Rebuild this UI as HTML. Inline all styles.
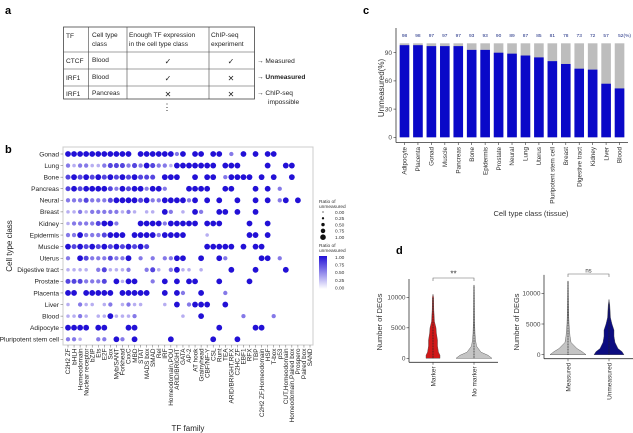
<!DOCTYPE html>
<html><head><meta charset="utf-8"><style>
body{margin:0;background:#fff;}
svg{display:block;font-family:"Liberation Sans",sans-serif;}
</style></head><body>
<svg id="fig" width="633" height="433" viewBox="0 0 633 433" xmlns="http://www.w3.org/2000/svg">
<rect width="633" height="433" fill="#fff"/>
<text x="5" y="14" font-size="11" font-weight="bold">a</text>
<text x="5" y="153" font-size="11" font-weight="bold">b</text>
<text x="363" y="14" font-size="11" font-weight="bold">c</text>
<text x="396" y="254" font-size="11" font-weight="bold">d</text>

<g font-size="6.6" fill="#222">
<rect x="63.5" y="27" width="191" height="72" fill="none" stroke="#444" stroke-width="0.8"/>
<line x1="88.5" y1="27" x2="88.5" y2="99" stroke="#444" stroke-width="0.6"/>
<line x1="127" y1="27" x2="127" y2="99" stroke="#444" stroke-width="0.6"/>
<line x1="209" y1="27" x2="209" y2="99" stroke="#444" stroke-width="0.6"/>
<line x1="63.5" y1="52" x2="254.5" y2="52" stroke="#444" stroke-width="0.6"/>
<line x1="63.5" y1="69" x2="254.5" y2="69" stroke="#444" stroke-width="0.6"/>
<line x1="63.5" y1="86" x2="254.5" y2="86" stroke="#444" stroke-width="0.6"/>
<text x="66" y="38">TF</text>
<text x="92" y="37">Cell type</text><text x="92" y="46">class</text>
<text x="129" y="37">Enough TF expression</text><text x="129" y="46">in the cell type class</text>
<text x="211" y="37">ChIP-seq</text><text x="211" y="46">experiment</text>
<text x="66" y="63">CTCF</text><text x="92" y="62">Blood</text>
<text x="66" y="80">IRF1</text><text x="92" y="79">Blood</text>
<text x="66" y="96">IRF1</text><text x="92" y="95">Pancreas</text>
<text x="168" y="64" font-size="8" text-anchor="middle">✓</text>
<text x="231" y="64" font-size="8" text-anchor="middle">✓</text>
<text x="168" y="81" font-size="8" text-anchor="middle">✓</text>
<text x="231" y="81" font-size="8" text-anchor="middle">✕</text>
<text x="168" y="97" font-size="8" text-anchor="middle">✕</text>
<text x="231" y="97" font-size="8" text-anchor="middle">✕</text>
<text x="257" y="63">→ Measured</text>
<text x="257" y="79" font-weight="bold">→ Unmeasured</text>
<text x="257" y="95">→ ChIP-seq</text><text x="268" y="104">impossible</text>
<text x="167" y="110" font-size="9" text-anchor="middle">⋮</text>
</g>
<g id="pb"></g>
<g id="pc"></g>
<g id="pd"></g>
</svg>
<script>
const NS="http://www.w3.org/2000/svg";
function mk(p,tag,a,txt){const e=document.createElementNS(NS,tag);for(const k in a)e.setAttribute(k,a[k]);if(txt!==undefined)e.textContent=txt;p.appendChild(e);return e;}

const bRows=["Gonad","Lung","Bone","Pancreas","Neural","Breast","Kidney","Epidermis","Muscle","Uterus","Digestive tract","Prostate","Placenta","Liver","Blood","Adipocyte","Pluripotent stem cell"];
const bCols=["C2H2 ZF","bHLH","Homeodomain","Nuclear receptor","bZIP","Ets","E2F","Sox","Myb/SANT","Forkhead","CxxC","MBD","STAT","MADS box","SMAD","Rel","IRF","Homeodomain,POU","ARID/BRIGHT","GATA","AP-2","AT hook","Grainyhead","CBF/NF-Y","CSL","Runt","TEA","ARID/BRIGHT,RFX","C2HC ZF","EBF1","RFX","TBP","C2H2 ZF,Homeodomain","HSF","T-box","p53","CUT,Homeodomain","Homeodomain,Paired box","Prospero","Paired box","SAND"];
const bVals=[
"ddddddddddd ddddddbd dd dd b d d dd       ",
"babbaabcccbcbdcbbaddddddd ddd    d  dd  ",
"cdcdcdcdcdcdccc ddd  d dd bdddd d d  d   ",
"cdcddddcbdcddbddb   dddd  dd   d d b     ",
"bbbcbbbcddddcdbbddddbd d d  d  d d bd d  ",
"aababbbbbaba aa db a db  dd d  d         ",
"abbbbcddb   ddddbddddd ddd    d  d       ",
"bbdbbbcddd ddddbdddd   a      dd d        ",
"dcdcdcdcdcdcdc         ddddd d dd        ",
"b dcbbbcbbd b b bbdd  d  db     dd b     ",
"aaaa bcaaab  bca bdaa a    d   d    d    ",
"cccbbbc dadd  b d d dd   d    d          ",
"dd ddddd ddddd  d db  d   b              ",
"a baa ab abaa   a d bddd  d              ",
"aaba aadaaab       a  d      b    b      ",
"dddd dd   dd             d     dd        ",
"bba  bb db d     d      d   d            "
];
const bX0=68,bDX=6.05,bY0=154,bDY=11.58;
function bx(i){return bX0+i*bDX;} function by(j){return bY0+j*bDY;}
const lv={a:0.25,b:0.5,c:0.75,d:1};
function dcol(v){const a=[232,226,250],b=[34,16,214];const t=v;return `rgb(${Math.round(a[0]+(b[0]-a[0])*t)},${Math.round(a[1]+(b[1]-a[1])*t)},${Math.round(a[2]+(b[2]-a[2])*t)})`;}
function drad(v){return 1.4+1.5*v;}
(function(){
const g=document.getElementById('pb');
mk(g,'rect',{x:63,y:147,width:250,height:198,fill:'none',stroke:'#ccc','stroke-width':1});
bRows.forEach((r,j)=>{
 const t=mk(g,'text',{x:59,y:by(j)+2.3,'font-size':6.6,'text-anchor':'end',fill:'#222'},r);
 
 
 mk(g,'line',{x1:60.5,x2:63,y1:by(j),y2:by(j),stroke:'#666','stroke-width':0.5});
 const s=bVals[j];
 for(let i=0;i<bCols.length;i++){const ch=s[i];if(!ch||ch===' ')continue;const v=lv[ch];
  const c=mk(g,'circle',{cx:bx(i),cy:by(j),r:drad(v),fill:dcol(v)});
  
  }
});
bCols.forEach((c,i)=>{
 mk(g,'line',{x1:bx(i),x2:bx(i),y1:345,y2:347.5,stroke:'#666','stroke-width':0.5});
 const t=mk(g,'text',{x:0,y:0,'font-size':6.4,'text-anchor':'end',fill:'#222',transform:`translate(${bx(i)+2.2},348.5) rotate(-90)`},c);
 
 
});
const xt=mk(g,'text',{x:188,y:431,'font-size':8,'text-anchor':'middle',fill:'#222'},'TF family');

const yt=mk(g,'text',{x:0,y:0,'font-size':8,'text-anchor':'middle',fill:'#222',transform:'translate(12,246) rotate(-90)'},'Cell type class');

const lg=mk(g,'g',{});
mk(lg,'text',{x:319,y:203,'font-size':4.8,fill:'#333'},'Ratio of');
mk(lg,'text',{x:319,y:208,'font-size':4.8,fill:'#333'},'unmeasured');
const sv=[0,0.25,0.5,0.75,1],sl=["0.00","0.25","0.50","0.75","1.00"];
sv.forEach((v,k)=>{const y=212+k*6.3;mk(lg,'circle',{cx:323,cy:y,r:0.6+2.2*v,fill:'#111'});mk(lg,'text',{x:335,y:y+1.8,'font-size':4.8,fill:'#333'},sl[k]);});
mk(lg,'text',{x:319,y:247,'font-size':4.8,fill:'#333'},'Ratio of');
mk(lg,'text',{x:319,y:252,'font-size':4.8,fill:'#333'},'unmeasured');
const gr=mk(lg,'defs',{});const lgd=mk(gr,'linearGradient',{id:'cg',x1:0,y1:0,x2:0,y2:1});
mk(lgd,'stop',{offset:0,'stop-color':dcol(1)});mk(lgd,'stop',{offset:1,'stop-color':'#fff'});
mk(lg,'rect',{x:319,y:256,width:8,height:33,fill:'url(#cg)'});
sl.slice().reverse().forEach((s,k)=>mk(lg,'text',{x:335,y:259+k*7.6,'font-size':4.8,fill:'#333'},s));
})();

const cCats=["Adipocyte","Placenta","Gonad","Muscle","Pancreas","Bone","Epidermis","Prostate","Neural","Lung","Uterus","Pluripotent stem cell","Breast","Digestive tract","Kidney","Liver","Blood"];
const cVals=[98,98,97,97,97,93,93,90,89,87,85,81,78,73,72,57,52];
const cLabels=["98","98","97","97","97","93","93","90","89","87","85","81","78","73","72","57","52(%)"];
const cTicks=[0,30,60,90];
(function(){
const g=document.getElementById('pc');
const X=i=>404.5+i*13.44, Y=v=>137.3-v*0.94, bw=9.6;
mk(g,'line',{x1:396,x2:396,y1:28,y2:142.5,stroke:'#333','stroke-width':0.8});
mk(g,'line',{x1:396,x2:628,y1:142.5,y2:142.5,stroke:'#333','stroke-width':0.8});
cTicks.forEach(t=>{mk(g,'line',{x1:393.5,x2:396,y1:Y(t),y2:Y(t),stroke:'#333','stroke-width':0.6});
 const tl=mk(g,'text',{x:392,y:Y(t)+2.3,'font-size':6.5,'text-anchor':'end',fill:'#444'},t);
 });
cCats.forEach((c,i)=>{
 const r1=mk(g,'rect',{x:X(i)-bw/2,y:Y(100),width:bw,height:Y(0)-Y(100),fill:'#bdbdbd'});
 
 const r2=mk(g,'rect',{x:X(i)-bw/2,y:Y(cVals[i]),width:bw,height:Y(0)-Y(cVals[i]),fill:'#0a08c8'});
 
 const vl=mk(g,'text',{x:X(i)+(i==16?5:0),y:37,'font-size':4.8,'text-anchor':'middle',fill:'#1a2a80'},cLabels[i]);
 
 mk(g,'line',{x1:X(i),x2:X(i),y1:142.5,y2:145,stroke:'#333','stroke-width':0.6});
 const tl=mk(g,'text',{x:0,y:0,'font-size':6.3,'text-anchor':'end',fill:'#333',transform:`translate(${X(i)+2.2},147) rotate(-90)`},c);
 
});
const yt=mk(g,'text',{x:0,y:0,'font-size':8,'text-anchor':'middle',fill:'#333',transform:'translate(384,88) rotate(-90)'},'Unmeasured(%)');

const xt=mk(g,'text',{x:531,y:216,'font-size':7.5,'text-anchor':'middle',fill:'#333'},'Cell type class (tissue)');

})();

const dTicks=[0,5000,10000];
const dLeftCats=["Marker","No marker"];
const dRightCats=["Measured","Unmeasured"];
const dLevels=[0,500,1000,2000,3000,4000,5000,6000,8000,10000,12000];
const dMarker=[7,7,5.5,4.5,4.5,3.5,3,1.5,0.8,0.6,0];
const dNoMarker=[18,14,7,2.5,1.5,1,0.8,0.6,0.5,0.4,0.2];
const dMeasured=[18,14,9,3,2,1.5,1,0.8,0.6,0.4,0.2];
const dUnmeasured=[15,13,9,6,5,5,3,1.5,0.8,0,0];
const dMax=[10500,12500,12500,9000];
(function(){
const g=document.getElementById('pd');
function panel(ax,x1,y0,scale,cats,dens,cols,maxs,sig,bry,ttlx){
 const Y=v=>y0-v*scale;
 mk(g,'line',{x1:ax,x2:ax,y1:Y(13000),y2:y0+4,stroke:'#333','stroke-width':0.8});
 mk(g,'line',{x1:ax,x2:x1,y1:y0+4,y2:y0+4,stroke:'#333','stroke-width':0.8});
 dTicks.forEach(t=>{mk(g,'line',{x1:ax-2.5,x2:ax,y1:Y(t),y2:Y(t),stroke:'#333','stroke-width':0.6});
  const tl=mk(g,'text',{x:ax-3.5,y:Y(t)+2.3,'font-size':6.5,'text-anchor':'end',fill:'#444'},t);
  });
 const cx=[ax+24,ax+65];
 cats.forEach((c,k)=>{
  const d=dens[k];let p='';const pts=[];
  for(let i=0;i<dLevels.length;i++){if(dLevels[i]>maxs[k]&&i>0){pts.push([0,maxs[k]]);break;}pts.push([d[i],dLevels[i]]);}
  p='M'+cx[k]+','+Y(0);pts.forEach(q=>p+=' L'+(cx[k]+q[0])+','+Y(q[1]));
  for(let i=pts.length-1;i>=0;i--)p+=' L'+(cx[k]-pts[i][0])+','+Y(pts[i][1]);p+='Z';
  const v=mk(g,'path',{d:p,fill:cols[k],stroke:'#444','stroke-width':0.4});
  
  mk(g,'line',{x1:cx[k],x2:cx[k],y1:Y(0),y2:Y(maxs[k]*0.95),stroke:'#222','stroke-width':0.8,'stroke-dasharray':'1,0.6'});
  mk(g,'line',{x1:cx[k],x2:cx[k],y1:y0+4,y2:y0+6.5,stroke:'#333','stroke-width':0.6});
  const tl=mk(g,'text',{x:0,y:0,'font-size':6.5,'text-anchor':'end',fill:'#333',transform:`translate(${cx[k]+2.3},${y0+8}) rotate(-90)`},c);
  
 });
 mk(g,'path',{d:`M${cx[0]},${bry+3} V${bry} H${cx[1]} V${bry+3}`,fill:'none',stroke:'#666','stroke-width':0.6});
 const s=mk(g,'text',{x:(cx[0]+cx[1])/2,y:bry-1.5,'font-size':sig=='**'?8:6,'text-anchor':'middle',fill:'#333'},sig);
 
 const yt=mk(g,'text',{x:0,y:0,'font-size':7.5,'text-anchor':'middle',fill:'#333',transform:`translate(${ttlx},322) rotate(-90)`},'Number of DEGs');
 
}
panel(409,498,358.3,0.0061,dLeftCats,[dMarker,dNoMarker],['#d01818','#c4c4c4'],[dMax[0],dMax[1]],'**',278,382);
panel(544,633,354.7,0.00614,dRightCats,[dMeasured,dUnmeasured],['#c4c4c4','#0c0c80'],[dMax[2],dMax[3]],'ns',274,519);
})();
</script>
</body></html>
